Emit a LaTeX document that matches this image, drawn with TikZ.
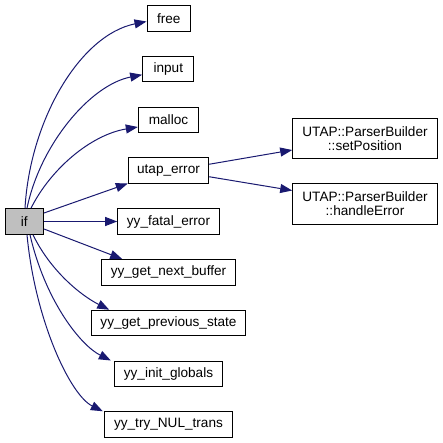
\documentclass[tikz,border=0pt]{standalone}
\usepackage{fontspec}
\setmainfont{Liberation Sans}
\usetikzlibrary{arrows.meta}
\definecolor{edgeblue}{RGB}{25,25,112}
\definecolor{ifgray}{RGB}{191,191,191}
\begin{document}
\begin{tikzpicture}[x=1pt,y=-1pt,
  box/.style={draw=black,line width=1pt,inner sep=0pt,minimum height=25.5pt,
    font=\fontsize{13.6}{13.8}\selectfont,align=center},
  tallbox/.style={box,minimum height=40.4pt,minimum width=144.6pt},
  edge/.style={draw=edgeblue,line width=1pt,-{Triangle[length=12pt,width=9pt,fill=edgeblue]}}]
\useasboundingbox (0,0) rectangle (443,443);
\node[box,fill=ifgray,minimum width=38.5pt] (if) at (24.25,221.5) {if};
\node[box,minimum width=43.5pt]  (free)  at (168.75,18.5)  {free};
\node[box,minimum width=51.3pt]  (input) at (168.3,69.25)  {input};
\node[box,minimum width=60.4pt]  (malloc) at (168.5,120)   {malloc};
\node[box,minimum width=80.4pt]  (utap) at (168.5,170.75)  {utap\_error};
\node[box,minimum width=101.6pt] (fatal) at (168.5,221.5)  {yy\_fatal\_error};
\node[box,minimum width=133.6pt] (next) at (168.5,272.25)  {yy\_get\_next\_buffer};
\node[box,minimum width=153.6pt] (prev) at (168.5,323)     {yy\_get\_previous\_state};
\node[box,minimum width=108.4pt] (init) at (168.5,373.75)  {yy\_init\_globals};
\node[box,minimum width=128.4pt] (nul) at (168.5,424.5)    {yy\_try\_NUL\_trans};
\node[tallbox] (setpos) at (365,138.5) {UTAP::ParserBuilder\\::setPosition};
\node[tallbox] (handle) at (365,204)   {UTAP::ParserBuilder\\::handleError};

\draw[edge] ([xshift=0.75pt]if.north) .. controls (30,120) and (80,35) .. ([yshift=-3pt]free.west);
\draw[edge] ([xshift=2.75pt]if.north) .. controls (40,145) and (90,85) .. ([yshift=-5.5pt]input.west);
\draw[edge] ([xshift=6.75pt]if.north) .. controls (50,170) and (90,135) .. ([yshift=-7pt]malloc.west);
\draw[edge] ([yshift=8.5pt]if.east) -- ([yshift=0.5pt]utap.south west);
\draw[edge] (if.east) -- (fatal.west);
\draw[edge] ([yshift=-7.5pt]if.east) -- ([xshift=21pt]next.north west);
\draw[edge] ([xshift=8.75pt]if.south) .. controls (50,270) and (80,295) .. ([xshift=18pt]prev.north west);
\draw[edge] ([xshift=5.75pt]if.south) .. controls (45,300) and (80,345) .. ([xshift=-3pt]init.north west);
\draw[edge] ([xshift=2.75pt]if.south) .. controls (35,320) and (70,395) .. ([xshift=-1pt]nul.north west);
\draw[edge] ([yshift=6.5pt]utap.east) -- ([yshift=-11.5pt]setpos.west);
\draw[edge] ([yshift=-6pt]utap.east) -- ([yshift=13.5pt]handle.west);
\end{tikzpicture}
\end{document}
